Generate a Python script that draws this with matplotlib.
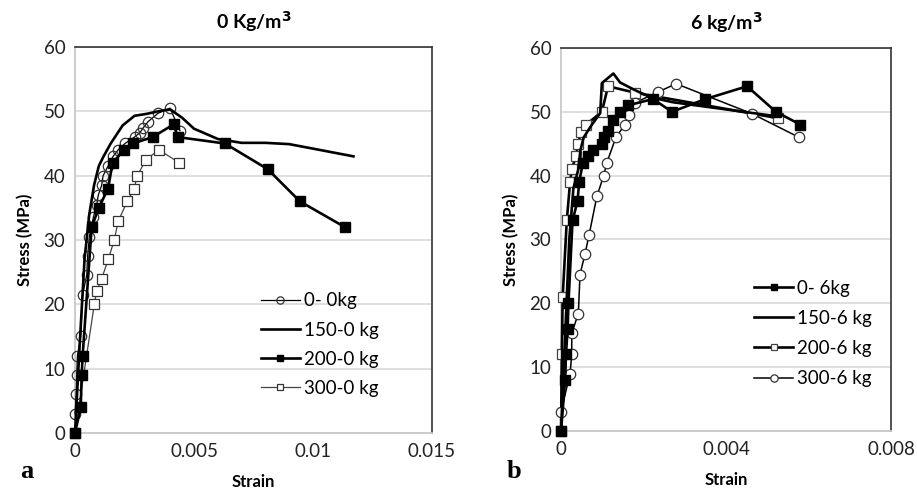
import matplotlib
matplotlib.use("Agg")
import matplotlib.pyplot as plt

# ---------------- data: panel a (0 kg/m3) ----------------
a_00_strain = [0, 0.00005, 0.00007, 0.0001, 0.00024, 0.00032, 0.00049, 0.00053, 0.0006, 0.00077,
               0.00091, 0.00098, 0.00112, 0.00118, 0.00139, 0.0016, 0.00181, 0.0021, 0.0025,
               0.00273, 0.00286, 0.00307, 0.00349, 0.00399, 0.00441]
a_00_stress = [3, 6, 9, 12, 15, 21.5, 24.5, 27.5, 30.5, 33.5,
               35.5, 37, 38.5, 40, 41.5, 43, 44, 45, 46,
               46.7, 47.4, 48.4, 49.7, 50.5, 47]

a_150_strain = [0, 0.0002, 0.0004, 0.0006, 0.0008, 0.001, 0.0012, 0.0015, 0.002, 0.0025, 0.003,
                0.0035, 0.004, 0.0045, 0.005, 0.006, 0.007, 0.008, 0.009, 0.010, 0.0117]
a_150_stress = [0, 14, 27, 34, 38.5, 41.5, 43, 45, 47.8, 49.3, 49.6,
                50, 50.3, 49, 47.3, 45.7, 45.1, 45.1, 44.9, 44.2, 43]

a_200_strain = [0, 0.00024, 0.00028, 0.00032, 0.0007, 0.001, 0.00139, 0.00158, 0.00206, 0.00244,
                0.00326, 0.00416, 0.00431, 0.0063, 0.0081, 0.00945, 0.01134]
a_200_stress = [0, 4, 9, 12, 32, 35, 38, 42, 44, 45,
                46, 48, 46, 45, 41, 36, 32]

a_300_strain = [0, 0.00081, 0.00091, 0.00112, 0.0014, 0.00165, 0.00182, 0.0022, 0.00248, 0.00262,
                0.00298, 0.00353, 0.00438]
a_300_stress = [0, 20, 22, 24, 27, 30, 33, 36, 38, 40,
                42.5, 44, 42]

# ---------------- data: panel b (6 kg/m3) ----------------
b_0_strain = [0, 0.0001, 0.00012, 0.00016, 0.00018, 0.00028, 0.0004, 0.00044, 0.00053, 0.00066,
              0.00078, 0.00099, 0.00104, 0.00115, 0.00127, 0.00143, 0.00162, 0.00223, 0.00269,
              0.0035, 0.00451, 0.00521, 0.0058]
b_0_stress = [0, 8, 12, 16, 20, 33, 36, 39, 42, 43,
              44, 45, 46, 47, 48.7, 50, 51, 52, 50,
              52, 54, 50, 48]

b_150_strain = [0, 0.0001, 0.0002, 0.0003, 0.00042, 0.00047, 0.00055, 0.00075, 0.00095, 0.00099,
                0.00127, 0.00143, 0.00179, 0.00216, 0.00271, 0.00523]
b_150_stress = [0, 15, 30, 38, 41, 44, 46, 48, 49.8, 54.5,
                56, 54.6, 53.4, 52.3, 51.5, 49.3]

b_200_strain = [0, 0.00002, 0.00004, 0.00014, 0.00022, 0.00026, 0.00036, 0.00042, 0.00048, 0.00061,
                0.00099, 0.00114, 0.00179, 0.00526]
b_200_stress = [0, 12, 21, 33, 39, 41, 43, 45, 46.9, 48,
                50, 54, 53, 49]

b_300_strain = [0, 0.00022, 0.00026, 0.00026, 0.00042, 0.00046, 0.00058, 0.00068, 0.00087, 0.00103,
                0.00111, 0.00133, 0.00155, 0.00165, 0.00179, 0.00235, 0.00279, 0.00463, 0.00577]
b_300_stress = [3, 9, 12, 15.3, 18.4, 24.5, 27.7, 30.7, 36.8, 39.9,
                42, 46, 48, 49.5, 51.4, 53.1, 54.4, 49.7, 46]

a_labels = ["0- 0kg", "150-0 kg", "200-0 kg", "300-0 kg"]
b_labels = ["0- 6kg", "150-6 kg", "200-6 kg", "300-6 kg"]
a_xticks = [0, 0.005, 0.01, 0.015]
a_xticklabels = ["0", "0.005", "0.01", "0.015"]
b_xticks = [0, 0.004, 0.008]
b_xticklabels = ["0", "0.004", "0.008"]
yticks = [0, 10, 20, 30, 40, 50, 60]

plt.rcParams['font.family'] = ['Lato', 'DejaVu Sans']

fig = plt.figure(figsize=(9.17, 4.93), dpi=100)
axA = fig.add_axes([0.0818, 0.1217, 0.3893, 0.783])
axB = fig.add_axes([0.6118, 0.1258, 0.3599, 0.7769])

THICK = 1.9
THIN = 0.9

def style(ax, xlim, xticks, xticklabels, title):
    ax.set_xlim(*xlim)
    ax.set_ylim(0, 60)
    ax.set_xticks(xticks)
    ax.set_xticklabels(xticklabels)
    ax.set_yticks(yticks)
    ax.tick_params(length=0, labelsize=13.5, pad=7, colors='#222222')
    ax.grid(axis='y', color='#d9d9d9', linewidth=1.2)
    ax.set_axisbelow(True)
    for s in ['left', 'bottom']:
        ax.spines[s].set_color('#c8c8c8')
        ax.spines[s].set_linewidth(1.3)
    for s in ['top', 'right']:
        ax.spines[s].set_color('#333333')
        ax.spines[s].set_linewidth(1.2)
    ax.set_title(title, fontsize=14, fontweight='bold', pad=13)
    ax.set_xlabel("Strain", fontsize=12, fontweight='bold', labelpad=10)
    ax.set_ylabel("Stress (MPa)", fontsize=12, fontweight='bold', labelpad=7)

common = dict(clip_on=False)

# Panel a
axA.plot(a_00_strain, a_00_stress, color='black', lw=THIN, marker='o', ms=7.5,
         mfc='none', mec='#333333', mew=0.9, label=a_labels[0], zorder=3, **common)
axA.plot(a_150_strain, a_150_stress, color='black', lw=THICK, label=a_labels[1], zorder=4, **common)
axA.plot(a_200_strain, a_200_stress, color='black', lw=THICK, marker='s', ms=6.5,
         mfc='black', mec='black', label=a_labels[2], zorder=5, **common)
axA.plot(a_300_strain, a_300_stress, color='#444444', lw=THIN, marker='s', ms=6.5,
         mfc='white', mec='#333333', mew=0.9, label=a_labels[3], zorder=3, **common)
style(axA, (0, 0.015), a_xticks, a_xticklabels, "0 Kg/m$^\\mathbf{3}$")
axA.legend(loc='upper left', bbox_to_anchor=(0.52, 0.364), frameon=False, fontsize=13.5,
           handlelength=2.1, handletextpad=0.2, labelspacing=0.65, borderaxespad=0,
           borderpad=0, markerscale=0.7)

# Panel b
axB.plot(b_0_strain, b_0_stress, color='black', lw=THICK, marker='s', ms=6.5,
         mfc='black', mec='black', label=b_labels[0], zorder=5, **common)
axB.plot(b_150_strain, b_150_stress, color='black', lw=THICK, label=b_labels[1], zorder=4, **common)
axB.plot(b_200_strain, b_200_stress, color='black', lw=THICK, marker='s', ms=7,
         mfc='white', mec='#444444', mew=0.9, label=b_labels[2], zorder=3, **common)
axB.plot(b_300_strain, b_300_stress, color='black', lw=THIN + 0.2, marker='o', ms=7.5,
         mfc='white', mec='#333333', mew=0.9, label=b_labels[3], zorder=3, **common)
style(axB, (0, 0.008), b_xticks, b_xticklabels, "6 kg/m$^\\mathbf{3}$")
axB.legend(loc='upper left', bbox_to_anchor=(0.585, 0.395), frameon=False, fontsize=13.5,
           handlelength=2.1, handletextpad=0.2, labelspacing=0.7, borderaxespad=0,
           borderpad=0, markerscale=0.7)

fig.text(0.022, 0.03, "a", fontsize=19, fontweight='bold', family='Liberation Serif')
fig.text(0.553, 0.03, "b", fontsize=19, fontweight='bold', family='Liberation Serif')

fig.savefig("out.png", dpi=100)
